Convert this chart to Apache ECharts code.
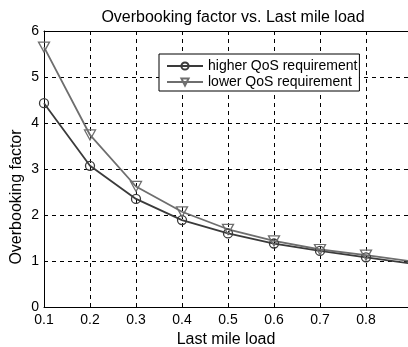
<!DOCTYPE html>
<html><head><meta charset="utf-8">
<script src="https://cdn.jsdelivr.net/npm/echarts@6/dist/echarts.min.js"></script>
<style>html,body{margin:0;padding:0;background:#fff}#c{width:408px;height:347px}</style>
</head><body><div id="c"></div>
<script>
const loads = [0.1, 0.2, 0.3, 0.4, 0.5, 0.6, 0.7, 0.8, 0.9];
const higherQoS = [4.43, 3.07, 2.35, 1.89, 1.60, 1.38, 1.22, 1.08, 0.94];
const lowerQoS = [5.65, 3.74, 2.62, 2.07, 1.69, 1.44, 1.25, 1.13, 0.99];
const seriesNames = ['higher QoS requirement', 'lower QoS requirement'];
const titleText = 'Overbooking factor vs. Last mile load';
const xName = 'Last mile load';
const yName = 'Overbooking factor';

const font = 'Liberation Sans, Arial, sans-serif';
const chart = echarts.init(document.getElementById('c'), null, {renderer: 'canvas'});
const pair = (xs, ys) => xs.map((x, i) => [x, ys[i]]);
const xMax = 0.8913;
const commonX = {
  type: 'value', min: 0.1, max: xMax, interval: 0.1,
  axisLine: {onZero: false, lineStyle: {color: '#000', width: 1}},
  axisTick: {inside: true, length: 4, lineStyle: {color: '#000'}}
};
chart.setOption({
  animation: false,
  backgroundColor: '#fff',
  title: {text: titleText, left: 228, top: 5, textAlign: 'center',
    textStyle: {fontFamily: font, fontSize: 16, fontWeight: 'normal', color: '#000'}},
  grid: {left: 44, top: 31, right: 0, bottom: 40, containLabel: false, outerBoundsMode: 'none'},
  legend: {
    orient: 'vertical', left: 159, top: 54,
    padding: [5, 2, 2, 7], itemGap: 2,
    backgroundColor: '#fff', borderColor: '#000', borderWidth: 1,
    itemWidth: 36, itemHeight: 9,
    textStyle: {fontFamily: font, fontSize: 14, color: '#000'},
    data: seriesNames
  },
  xAxis: [Object.assign({}, commonX, {
    position: 'bottom',
    name: xName, nameLocation: 'middle', nameGap: 23,
    nameTextStyle: {fontFamily: font, fontSize: 16, color: '#000'},
    axisLabel: {fontFamily: font, fontSize: 14, color: '#000', margin: 6, showMaxLabel: false,
      formatter: v => v.toFixed(1)},
    splitLine: {show: true, showMaxLine: false, lineStyle: {color: '#000', type: [4, 4], width: 1}}
  }), Object.assign({}, commonX, {
    position: 'top',
    axisLabel: {show: false},
    splitLine: {show: false}
  })],
  yAxis: {
    type: 'value', min: 0, max: 6, interval: 1,
    name: yName, nameLocation: 'middle', nameGap: 19, nameRotate: 90, nameMoveOverlap: false,
    nameTextStyle: {fontFamily: font, fontSize: 16, color: '#000', padding: [0, 56, 0, 0]},
    axisLine: {lineStyle: {color: '#000', width: 1}},
    axisTick: {inside: true, length: 4, lineStyle: {color: '#000'}},
    axisLabel: {fontFamily: font, fontSize: 14, color: '#000', margin: 5},
    splitLine: {show: true, lineStyle: {color: '#000', type: [4, 4], width: 1}}
  },
  series: [
    {
      name: seriesNames[0], type: 'line', data: pair(loads, higherQoS),
      symbol: 'circle', symbolSize: 9, color: '#3a3a3a',
      lineStyle: {color: '#3a3a3a', width: 1.8},
      itemStyle: {color: 'rgba(0,0,0,0)', borderColor: '#3a3a3a', borderWidth: 1.3}
    },
    {
      name: seriesNames[1], type: 'line', data: pair(loads, lowerQoS),
      symbol: 'path://M0,0 L10,0 L5,9 Z', symbolSize: [11, 10], color: '#6e6e6e',
      lineStyle: {color: '#6e6e6e', width: 1.8},
      itemStyle: {color: 'rgba(0,0,0,0)', borderColor: '#6e6e6e', borderWidth: 1.3}
    }
  ]
});
</script></body></html>
